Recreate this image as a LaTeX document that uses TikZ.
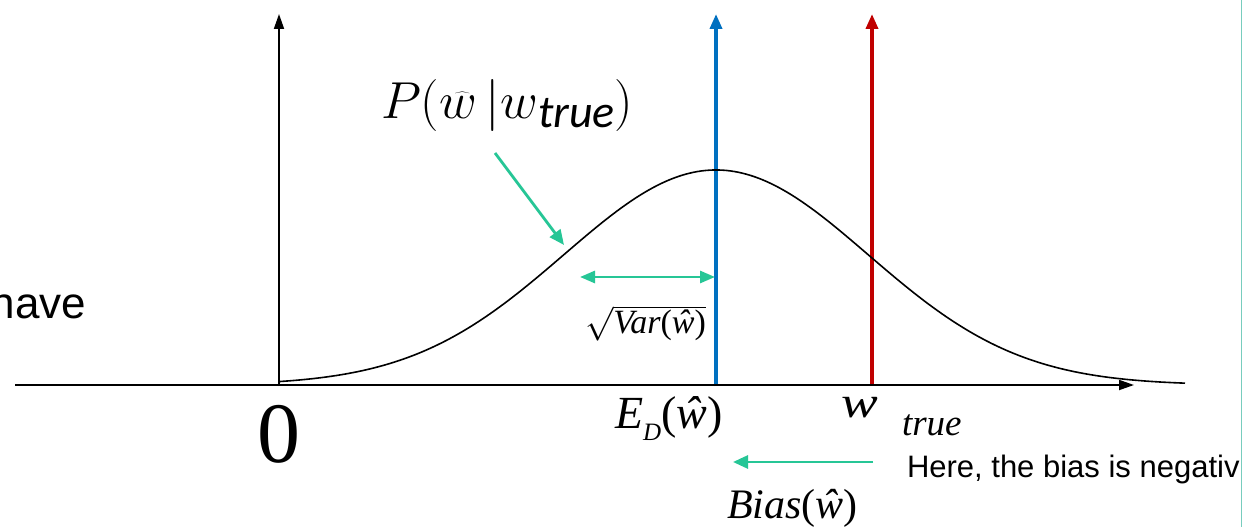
\RequirePackage{fix-cm}
\documentclass[tikz,border=0pt]{standalone}
\usepackage{fontspec}
\newfontfamily\tms{Liberation Serif}
\newfontfamily\arl{Liberation Sans}
\newfontfamily\carl{Carlito}
\usetikzlibrary{arrows.meta}
\definecolor{axblue}{RGB}{0,112,192}
\definecolor{axred}{RGB}{192,0,0}
\definecolor{tealarr}{RGB}{38,198,150}
\definecolor{edgeteal}{RGB}{120,205,190}
\begin{document}
\begin{tikzpicture}[x=1pt,y=-1pt,
  axisline/.style={line width=1.8pt, black},
  axishead/.style={-{Triangle[length=15pt,width=10pt]}},
  markline/.style={line width=3.6pt, -{Triangle[length=15pt,width=12pt]}},
  curveline/.style={line width=1.6pt, black},
  tealline/.style={line width=2.8pt, tealarr},
  tealhead/.style={-{Triangle[length=15pt,width=13pt]}},
  tealboth/.style={{Triangle[length=15pt,width=12pt]}-{Triangle[length=15pt,width=12pt]}},
  txt/.style={inner sep=0pt, outer sep=0pt}
]
\useasboundingbox (0,0) rectangle (1243,527);
\fill[white] (0,0) rectangle (1243,527);

% coordinates
\coordinate (xs) at (15,385);
\coordinate (xe) at (1134,385);
\coordinate (o) at (279,386);
\coordinate (yt) at (279,14);
\coordinate (eb) at (716,386);
\coordinate (et) at (716,14);
\coordinate (wb) at (872,386);
\coordinate (wt) at (872,14);
\coordinate (pa) at (495,153);
\coordinate (pb) at (564,245);
\coordinate (va) at (580,277);
\coordinate (vb) at (715,277);
\coordinate (ba) at (873,462);
\coordinate (bb) at (733,462);

% blue and red lines
\draw[markline, axblue] (eb) -- (et);
\draw[markline, axred] (wb) -- (wt);

% axes
\draw[axisline, axishead] (xs) -- (xe);
\draw[axisline, axishead] (o) -- (yt);

% curve
\draw[curveline] plot[domain=280:1185, samples=220, smooth]
  (\x, {385-215*exp(-0.5*((\x-716)/152)^2)});

% teal arrows
\draw[tealline, tealhead] (pa) -- (pb);
\draw[tealline, tealboth] (va) -- (vb);
\draw[tealline, tealhead] (ba) -- (bb);

% right edge line
\draw[edgeteal, line width=1.5pt] (1241.5,0) -- (1241.5,527);

% texts
\node[txt, anchor=base east, font=\arl\fontsize{44}{48}\selectfont] (have) at (86,318) {have};
\node[txt, anchor=base west, font=\arl\fontsize{31}{35}\selectfont] (here) at (907,477) {Here, the bias is negativ};
\node[txt, anchor=base, font=\tms\fontsize{86}{90}\selectfont] (zero) at (279,462) {0};
\node[txt, anchor=base west, font=\tms\fontsize{46}{50}\selectfont] (ed) at (615,428)
  {\textit{E}\raisebox{-12pt}{\fontsize{25}{25}\selectfont\textit{D}}(\textit{ŵ})};
\node[txt, anchor=base west, xscale=1.25, font=\tms\fontsize{44}{48}\selectfont] (wlab) at (841,417) {\textit{w}};
\node[txt, anchor=base west, font=\tms\fontsize{37}{40}\selectfont] (truelab) at (902,435) {\textit{true}};
\node[txt, anchor=base west, font=\tms\fontsize{42}{46}\selectfont] (bias) at (727,518) {\textit{Bias}(\textit{ŵ})};
\node[txt, anchor=base west, font=\fontsize{34}{40}\selectfont] (var) at (585,333)
  {$\sqrt{\mbox{\tms\itshape Var\upshape(\itshape ŵ\upshape)}}$};
\node[txt, anchor=base west, font=\fontsize{52}{58}\selectfont] (plab) at (381,118)
  {$P(\widehat{w}\,|w$\raisebox{-9pt}{\carl\itshape\fontsize{46}{46}\selectfont true}$)$};
\end{tikzpicture}
\end{document}
